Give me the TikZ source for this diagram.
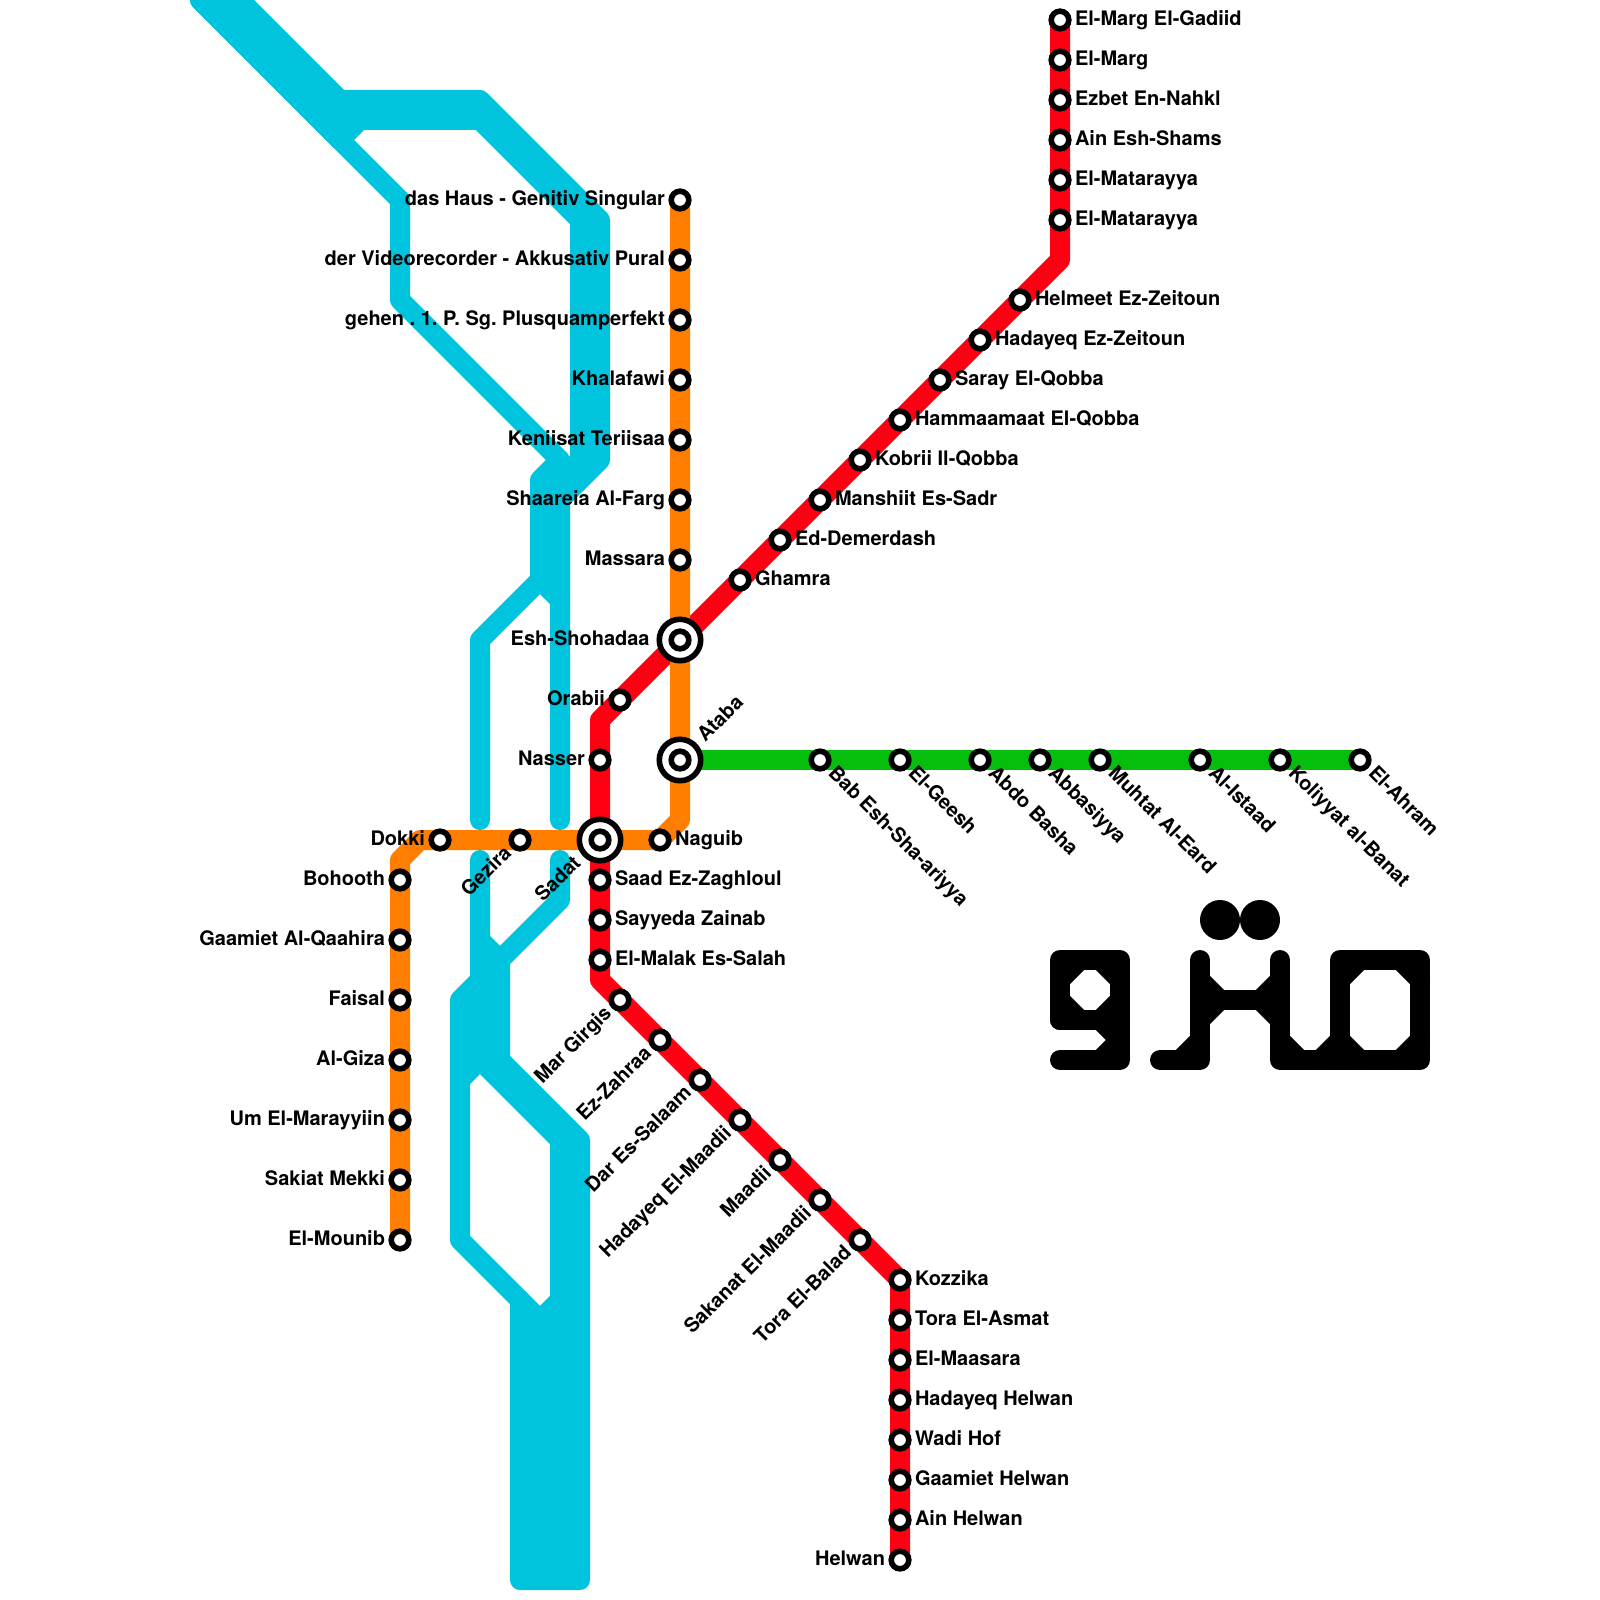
\documentclass[tikz,border=0pt]{standalone}
\usepackage{fontspec}
\setmainfont{TeX Gyre Heros}
\usetikzlibrary{backgrounds,positioning}
\definecolor{nile}{HTML}{00C4DE}
\definecolor{redln}{HTML}{FF0013}
\definecolor{orangeln}{HTML}{FF7E00}
\definecolor{greenln}{HTML}{05BF0C}
\frenchspacing
\tikzset{
  route/.style={line width=10pt, line cap=round, line join=round},
  stn/.style={circle, draw=black, fill=white, line width=2.8pt, minimum size=8.8pt, inner sep=0pt, outer sep=0pt},
  xstn/.style={stn, minimum size=20.7pt},
  lbl/.style={inner sep=0pt, font=\bfseries\fontsize{10}{12}\selectfont},
  lblr/.style={lbl, anchor=base west},
  lbll/.style={lbl, anchor=base east},
}
\begin{document}
\begin{tikzpicture}[x=0.5pt,y=-0.5pt]
    \useasboundingbox (0,0) rectangle (1600,1600);

    % interchanges
    \foreach \id/\x/\y in {shohadaa/680/640, ataba/680/760, sadat/600/840}
        \node[xstn] (\id) at (\x,\y) {};

    % stations, label to the right
    \foreach \id/\x/\y/\txt in {
        gadiid/1060/20/El-Marg El-Gadiid, marg/1060/60/El-Marg, nahkl/1060/100/Ezbet En-Nahkl,
        shams/1060/140/Ain Esh-Shams, matar/1060/180/El-Matarayya, matarb/1060/220/El-Matarayya,
        helmeet/1020/300/Helmeet Ez-Zeitoun, hadzeit/980/340/Hadayeq Ez-Zeitoun, saray/940/380/Saray El-Qobba,
        hammam/900/420/Hammaamaat El-Qobba, kobri/860/460/Kobrii Il-Qobba, manshiit/820/500/Manshiit Es-Sadr,
        demer/780/540/Ed-Demerdash, ghamra/740/580/Ghamra, naguib/660/840/Naguib,
        saad/600/880/Saad Ez-Zaghloul, sayyeda/600/920/Sayyeda Zainab, malak/600/960/El-Malak Es-Salah,
        kozzika/900/1280/Kozzika, asmat/900/1320/Tora El-Asmat, maasara/900/1360/El-Maasara,
        hadhel/900/1400/Hadayeq Helwan, wadi/900/1440/Wadi Hof, gaamhel/900/1480/Gaamiet Helwan,
        ainhel/900/1520/Ain Helwan} {
        \node[stn] (\id) at (\x,\y) {};
        \node[lblr] (\id-t) at ([xshift=7.3pt,yshift=-2.9pt]\id.center) {\txt};
    }

    % stations, label to the left
    \foreach \id/\x/\y/\txt in {
        haus/680/200/das Haus - Genitiv Singular, video/680/260/der Videorecorder - Akkusativ Pural,
        gehen/680/320/gehen . 1. P. Sg. Plusquamperfekt, khala/680/380/Khalafawi, kenii/680/440/Keniisat Teriisaa,
        shaar/680/500/Shaareia Al-Farg, massara/680/560/Massara, orabii/620/700/Orabii, nasser/600/760/Nasser,
        dokki/440/840/Dokki, bohooth/400/880/Bohooth, gaamiet/400/940/Gaamiet Al-Qaahira, faisal/400/1000/Faisal,
        giza/400/1060/Al-Giza, marayy/400/1120/Um El-Marayyiin, sakiat/400/1180/Sakiat Mekki, mounib/400/1240/El-Mounib,
        helwan/900/1560/Helwan} {
        \node[stn] (\id) at (\x,\y) {};
        \node[lbll] (\id-t) at ([xshift=-7.3pt,yshift=-2.9pt]\id.center) {\txt};
    }

    % stations, label going down the left
    \foreach \id/\x/\y/\txt in {
        gezira/520/840/Gezira, girgis/620/1000/Mar Girgis, zahraa/660/1040/Ez-Zahraa, salaam/700/1080/Dar Es-Salaam,
        hadmaa/740/1120/Hadayeq El-Maadii, maadii/780/1160/Maadii, sakanat/820/1200/Sakanat El-Maadii, tora/860/1240/Tora El-Balad} {
        \node[stn] (\id) at (\x,\y) {};
        \node[lbl, rotate=45, anchor=base east] (\id-t) at ([xshift=-3.6pt,yshift=-7pt]\id.center) {\txt};
    }

    % stations, label going down the right
    \foreach \id/\x/\txt in {
        bab/820/Bab Esh-Sha-ariyya, geesh/900/El-Geesh, abdo/980/Abdo Basha, abbas/1040/Abbasiyya,
        muhtat/1100/Muhtat Al-Eard, istaad/1200/Al-Istaad, koliyyat/1280/Koliyyat al-Banat, ahram/1360/El-Ahram} {
        \node[stn] (\id) at (\x,760) {};
        \node[lbl, rotate=-45, anchor=base west] (\id-t) at ([xshift=3.6pt,yshift=-7pt]\id.center) {\txt};
    }

    % inner rings and the three odd labels
    \node[stn] (shohadaa-i) at (shohadaa) {};
    \node[stn] (ataba-i) at (ataba) {};
    \node[stn] (sadat-i) at (sadat) {};
    \node[lbll] (shohadaa-t) at ([xshift=-15pt,yshift=-2.9pt]shohadaa.center) {Esh-Shohadaa};
    \node[lbl, rotate=45, anchor=base west] (ataba-t) at ([xshift=12.5pt,yshift=8.5pt]ataba.center) {Ataba};
    \node[lbl, rotate=45, anchor=base east] (sadat-t) at ([xshift=-9pt,yshift=-12pt]sadat.center) {Sadat};

    \coordinate (rA) at (1060,260);
    \coordinate (rB) at (600,720);
    \coordinate (rC) at (600,980);
    \coordinate (oA) at (680,820);
    \coordinate (oB) at (420,840);
    \coordinate (oC) at (400,860);

    \begin{scope}[on background layer]
        % the river
        \begin{scope}[route, draw=nile]
            \draw (200,0) -- (400,200) -- (400,300) -- (560,460) -- (540,480) -- (540,580) -- (480,640) -- (480,820);
            \draw (200,0) -- (340,140) -- (360,120) -- (480,120) -- (580,220) -- (580,460) -- (550,490);
            \draw (220,0) -- (340,120) -- (360,120);
            \draw (240,0) -- (340,100) -- (480,100) -- (600,220) -- (600,460) -- (560,500) -- (560,820);
            \draw (540,580) -- (560,600);
            \draw (480,860) -- (480,940) -- (500,960) -- (500,1060) -- (580,1140) -- (580,1580) -- (520,1580) -- (520,1300);
            \draw (560,860) -- (560,900) -- (500,960) -- (460,1000) -- (460,1240) -- (540,1320) -- (540,1580);
            \draw (480,940) -- (480,1060) -- (560,1140) -- (560,1580);
            \draw (460,1080) -- (480,1060);
            \draw (560,1300) -- (540,1320);
        \end{scope}
        % metro lines
        \draw[route, redln] (gadiid.center) -- (rA) -- (rB) -- (rC) -- (kozzika.center) -- (helwan.center);
        \draw[route, orangeln] (haus.center) -- (oA) -- (naguib.center) -- (oB) -- (oC) -- (mounib.center);
        \draw[route, greenln] (ataba.center) -- (ahram.center);
    \end{scope}

    % logo
    \begin{scope}[route, draw=black]
        \fill (1220,920) circle (20);
        \fill (1260,920) circle (20);
        \draw (1060,1020) -- (1060,960) -- (1120,960) -- (1120,1060) -- (1060,1060);
        \draw (1060,1020) -- (1120,1020);
        \draw (1060,980) -- (1080,960);
        \draw (1100,960) -- (1120,980);
        \draw (1060,1000) -- (1080,1020);
        \draw (1100,1020) -- (1120,1000);
        \draw (1100,1020) -- (1120,1040) -- (1100,1060);

        \draw (1200,960) -- (1200,1060) -- (1160,1060);
        \draw (1180,1060) -- (1200,1040);
        \draw (1280,960) -- (1280,1060) -- (1420,1060) -- (1420,960) -- (1340,960) -- (1340,1060);
        \draw (1200,1000) -- (1280,1000);
        \draw (1200,980) -- (1220,1000) -- (1200,1020);
        \draw (1280,980) -- (1260,1000) -- (1280,1020);
        \draw (1280,1040) -- (1300,1060);
        \draw (1320,1060) -- (1340,1040);
        \draw (1340,980) -- (1360,960);
        \draw (1400,960) -- (1420,980);
        \draw (1340,1040) -- (1360,1060);
        \draw (1400,1060) -- (1420,1040);
    \end{scope}
\end{tikzpicture}
\end{document}
